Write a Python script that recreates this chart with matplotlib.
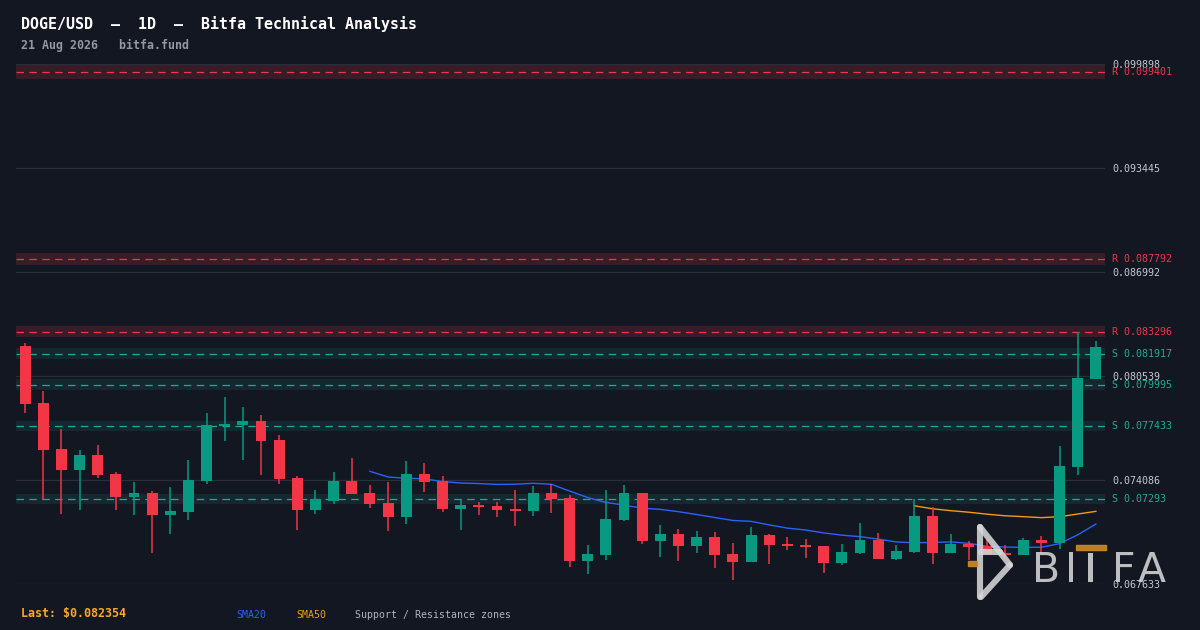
import matplotlib
matplotlib.use("Agg")
import matplotlib.pyplot as plt
import numpy as np
import pandas as pd
from matplotlib.lines import Line2D
from matplotlib.patches import Rectangle
from matplotlib.transforms import blended_transform_factory

# DOGE/USD daily candles
opens = [0.082400, 0.078864, 0.076009, 0.074725, 0.075637, 0.074458, 0.073031, 0.073279, 0.071914, 0.072100,
         0.074024, 0.077436, 0.077499, 0.077747, 0.076568, 0.074210, 0.072224, 0.072783, 0.074024, 0.073279,
         0.072659, 0.071790, 0.074458, 0.074024, 0.072287, 0.072535, 0.072473, 0.072287, 0.072162, 0.073279,
         0.072969, 0.069060, 0.069432, 0.071604, 0.073279, 0.070301, 0.070735, 0.069991, 0.070549, 0.069494,
         0.068998, 0.070673, 0.070114, 0.070053, 0.069991, 0.068936, 0.069556, 0.070363, 0.069184, 0.069618,
         0.071852, 0.069556, 0.070114, 0.069991, 0.069556, 0.069432, 0.070363, 0.070177, 0.074893, 0.080353]
highs = [0.082568, 0.079608, 0.077250, 0.075947, 0.076258, 0.074582, 0.073962, 0.073403, 0.073652, 0.075327,
         0.078243, 0.079236, 0.078615, 0.078119, 0.076878, 0.074334, 0.073465, 0.074582, 0.075451, 0.073776,
         0.073962, 0.075265, 0.075141, 0.074334, 0.072845, 0.072721, 0.072721, 0.073465, 0.073714, 0.073838,
         0.073155, 0.070053, 0.073465, 0.073776, 0.073300, 0.071294, 0.071046, 0.070921, 0.070859, 0.070177,
         0.071170, 0.070735, 0.070549, 0.070425, 0.069991, 0.070114, 0.071418, 0.070797, 0.070053, 0.072907,
         0.072411, 0.070735, 0.070301, 0.070425, 0.070053, 0.070487, 0.070611, 0.076196, 0.083269, 0.082710]
lows = [0.078262, 0.072907, 0.071995, 0.072224, 0.074229, 0.072224, 0.071914, 0.069556, 0.070735, 0.071604,
        0.073838, 0.076506, 0.075327, 0.074396, 0.073838, 0.070984, 0.071976, 0.072597, 0.073217, 0.072349,
        0.070921, 0.071356, 0.073341, 0.072100, 0.070984, 0.071914, 0.071790, 0.071232, 0.071852, 0.072038,
        0.068688, 0.068253, 0.069122, 0.071542, 0.070114, 0.069308, 0.069060, 0.069556, 0.068626, 0.067881,
        0.068998, 0.068874, 0.069743, 0.069246, 0.068315, 0.068812, 0.069494, 0.069184, 0.069122, 0.069556,
        0.068874, 0.069556, 0.069122, 0.069494, 0.069246, 0.069432, 0.069556, 0.069805, 0.074396, 0.080353]
closes = [0.078820, 0.075966, 0.074725, 0.075637, 0.074396, 0.073050, 0.073279, 0.071914, 0.072162, 0.074086,
          0.077499, 0.077561, 0.077747, 0.076506, 0.074148, 0.072224, 0.072907, 0.074024, 0.073217, 0.072597,
          0.071790, 0.074458, 0.073962, 0.072287, 0.072535, 0.072411, 0.072224, 0.072162, 0.073279, 0.072907,
          0.069060, 0.069494, 0.071666, 0.073279, 0.070301, 0.070735, 0.069991, 0.070549, 0.069432, 0.068998,
          0.070673, 0.070053, 0.069991, 0.069929, 0.068936, 0.069618, 0.070363, 0.069184, 0.069681, 0.071852,
          0.069556, 0.070114, 0.069929, 0.069494, 0.069432, 0.070363, 0.070177, 0.074955, 0.080415, 0.082354]

# support / resistance zones
sr_levels = [0.099401, 0.087792, 0.083296, 0.081917, 0.079995, 0.077433, 0.07293]
sr_kinds = ["R", "R", "R", "S", "S", "S", "S"]

yticks = [0.099898, 0.093445, 0.086992, 0.080539, 0.074086, 0.067633]
last_price = 0.082354

BG = "#131722"
UP = "#089981"
DOWN = "#f23645"
RES = "#f23645"
SUP = "#22ab94"
MONO = "DejaVu Sans Mono"
W, H = 1200, 630

def fx(x):
    return x / W

def fy(y):
    return 1 - y / H

df = pd.DataFrame({"open": opens, "high": highs, "low": lows, "close": closes})
df["sma20"] = df["close"].rolling(20).mean()
df["sma50"] = df["close"].rolling(50).mean()
x = np.arange(len(df))

fig = plt.figure(figsize=(12, 6.3), dpi=100, facecolor=BG)
ax = fig.add_axes([fx(16), fy(584), 1089 / W, 520 / H])
ax.set_facecolor(BG)
for s in ax.spines.values():
    s.set_visible(False)

ax.set_xlim(-0.5, len(df) - 0.5)
ax.set_ylim(yticks[-1], yticks[0])
ax.set_xticks([])
ax.set_yticks(yticks)
ax.set_yticklabels([f"{t:.6f}" for t in yticks], family=MONO)
ax.yaxis.tick_right()
ax.tick_params(axis="y", length=0, pad=5, labelsize=7.2, labelcolor="#c5c8d0")
ax.grid(axis="y", color="#2a2e39", lw=0.9, zorder=0)
ax.set_axisbelow(True)

# zones
tr = blended_transform_factory(ax.transAxes, ax.transData)
for lvl, kind in zip(sr_levels, sr_kinds):
    col = RES if kind == "R" else SUP
    band = lvl * 0.0043
    ax.axhspan(lvl - band, lvl + band, color=col, alpha=0.17 if kind == "R" else 0.12, lw=0, zorder=1)
    ax.axhline(lvl, color=col, lw=0.9, ls=(0, (6, 4.3)), zorder=2)
    ax.text(1.0062, lvl, f"{kind} {lvl}", transform=tr, color=col, fontsize=7.2,
            family=MONO, va="center", ha="left")

# moving averages
ax.plot(x, df["sma20"], color="#2962ff", lw=1.0, zorder=3)
ax.plot(x, df["sma50"], color="#f39c12", lw=1.0, zorder=3)

# candles
colors = [UP if c >= o else DOWN for o, c in zip(df["open"], df["close"])]
ax.vlines(x, df["low"], df["high"], colors=colors, lw=1.1, zorder=4)
body_lo = np.minimum(df["open"], df["close"])
body_h = np.maximum(np.abs(df["close"] - df["open"]), 0.00007)
ax.bar(x, body_h, bottom=body_lo, width=0.6, color=colors, lw=0, zorder=5)

# header
fig.text(fx(21), fy(24), "DOGE/USD  \u2013  1D  \u2013  Bitfa Technical Analysis", color="#ffffff",
         fontsize=10.8, weight="bold", family=MONO, va="center", ha="left")
fig.text(fx(21), fy(45), "21 Aug 2026   bitfa.fund", color="#9598a1",
         fontsize=8.4, weight="bold", family=MONO, va="center", ha="left")

# footer
fig.text(fx(21), fy(613), f"Last: ${last_price}", color="#ffa726",
         fontsize=8.4, weight="bold", family=MONO, va="center", ha="left")
fig.text(fx(236), fy(615), "SMA20", color="#2962ff", fontsize=7.1, family=MONO, va="center")
fig.text(fx(296), fy(615), "SMA50", color="#f39c12", fontsize=7.1, family=MONO, va="center")
fig.text(fx(355), fy(615), "Support / Resistance zones", color="#b2b5be", fontsize=7.1,
         family=MONO, va="center")

# BITFA watermark
wm = "#d6d6d6"
icon = [((980, 527), (980, 597)), ((980, 527), (1010, 565)),
        ((1010, 565), (981, 597)), ((981, 552), (1000, 552))]
for a, b in icon:
    fig.add_artist(Line2D([fx(a[0]), fx(b[0])], [fy(a[1]), fy(b[1])], color=wm, lw=4.4,
                          alpha=0.88, solid_capstyle="round", zorder=10))
fig.add_artist(Rectangle((fx(968), fy(566)), 9 / W, 5 / H, color="#d08a24", alpha=0.9, zorder=10))
fig.add_artist(Rectangle((fx(1076), fy(550)), 30 / W, 5 / H, color="#d08a24", alpha=0.9, zorder=10))
fig.add_artist(Rectangle((fx(1088), fy(582)), 5 / W, 29 / H, color=wm, alpha=0.88, lw=0, zorder=10))
for ch, cx in [("B", 1046), ("I", 1071), ("F", 1124), ("A", 1152)]:
    fig.text(fx(cx), fy(582), ch, color=wm, alpha=0.88, fontsize=29.5, family="DejaVu Sans",
             ha="center", va="baseline", zorder=10)

fig.savefig("out.png", dpi=100, facecolor=BG)
